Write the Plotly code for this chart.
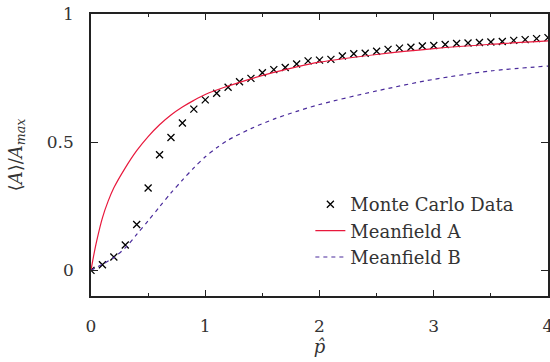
import plotly.graph_objects as go

# Monte Carlo data
mc_p = [0.0, 0.1, 0.2, 0.3, 0.4, 0.5, 0.6, 0.7, 0.8, 0.9,
        1.0, 1.1, 1.2, 1.3, 1.4, 1.5, 1.6, 1.7, 1.8, 1.9,
        2.0, 2.1, 2.2, 2.3, 2.4, 2.5, 2.6, 2.7, 2.8, 2.9,
        3.0, 3.1, 3.2, 3.3, 3.4, 3.5, 3.6, 3.7, 3.8, 3.9, 4.0]
mc_a = [0.000, 0.022, 0.052, 0.099, 0.179, 0.321, 0.451, 0.518, 0.575, 0.629,
        0.665, 0.691, 0.714, 0.736, 0.749, 0.771, 0.783, 0.791, 0.805, 0.817,
        0.820, 0.823, 0.836, 0.845, 0.847, 0.855, 0.862, 0.867, 0.870, 0.875,
        0.877, 0.881, 0.885, 0.887, 0.889, 0.891, 0.893, 0.897, 0.900, 0.904, 0.908]

# Meanfield A
mfa_p = [0.0, 0.02, 0.05, 0.1, 0.15, 0.2, 0.3, 0.4, 0.5, 0.6, 0.7, 0.8, 0.9,
         1.0, 1.2, 1.4, 1.6, 1.8, 2.0, 2.5, 3.0, 3.5, 4.0]
mfa_a = [0.0, 0.05, 0.115, 0.205, 0.27, 0.322, 0.40, 0.467, 0.522, 0.568, 0.606, 0.637, 0.663,
         0.686, 0.719, 0.747, 0.772, 0.794, 0.812, 0.842, 0.865, 0.882, 0.895]

# Meanfield B
mfb_p = [0.0, 0.1, 0.2, 0.3, 0.4, 0.5, 0.6, 0.7, 0.8, 0.9,
         1.0, 1.1, 1.2, 1.4, 1.6, 1.8, 2.0, 2.5, 3.0, 3.5, 4.0]
mfb_a = [0.0, 0.024, 0.05, 0.088, 0.14, 0.193, 0.248, 0.302, 0.352, 0.40,
         0.443, 0.478, 0.508, 0.553, 0.590, 0.620, 0.647, 0.700, 0.745, 0.778, 0.797]

x_ticks = [0, 1, 2, 3, 4]
y_ticks = [0, 0.5, 1]
y_tick_labels = ["0", "0.5", "1"]

FONT = "DejaVu Serif"
TXT = "#333333"

fig = go.Figure()
fig.add_trace(go.Scatter(
    x=mc_p, y=mc_a, mode="markers", name="Monte Carlo Data",
    marker=dict(symbol="x-thin", size=7, color="black",
                line=dict(width=1.3, color="black"))))
fig.add_trace(go.Scatter(
    x=mfa_p, y=mfa_a, mode="lines", name="Meanfield A", line_shape="spline",
    line=dict(color="#e8183c", width=1.2, smoothing=0.8)))
fig.add_trace(go.Scatter(
    x=mfb_p, y=mfb_a, mode="lines", name="Meanfield B", line_shape="spline",
    line=dict(color="#4a2b9b", width=1.2, dash="4px,4px", smoothing=0.8)))

axis_common = dict(
    showgrid=False, zeroline=False, showline=True, linecolor="#222222",
    linewidth=1.5, mirror="allticks", ticks="inside", tickcolor="#222222",
    tickfont=dict(family=FONT, size=17, color=TXT), automargin=False,
    ticklabeloverflow="allow",
)

fig.update_xaxes(
    range=[0, 4], tickvals=x_ticks, ticklen=6, tickwidth=1.2,
    ticklabelstandoff=14,
    minor=dict(dtick=0.5, ticks="inside", ticklen=3, tickcolor="#222222", tickwidth=1.2),
    title=dict(text="<i>p̂</i>", font=dict(family=FONT, size=18, color=TXT), standoff=1),
    **axis_common)
fig.update_yaxes(
    range=[-0.1, 1], tickvals=y_ticks, ticktext=y_tick_labels, ticklen=7, tickwidth=1.2,
    ticklabelstandoff=12,
    title=dict(text="⟨<i>A</i>⟩/<i>A</i><sub><i>max</i></sub>",
               font=dict(family=FONT, size=18, color=TXT), standoff=20),
    **axis_common)

fig.update_layout(
    width=550, height=362,
    margin=dict(l=91, r=2, t=14, b=66),
    paper_bgcolor="white", plot_bgcolor="white",
    showlegend=True,
    legend=dict(x=0.48, y=0.39, xanchor="left", yanchor="top",
                bgcolor="rgba(0,0,0,0)", borderwidth=0,
                font=dict(family=FONT, size=18, color=TXT),
                tracegroupgap=0, itemwidth=30),
)

fig.write_html("out.html", config={"displayModeBar": False},
               post_script="document.body.style.margin='0';")
